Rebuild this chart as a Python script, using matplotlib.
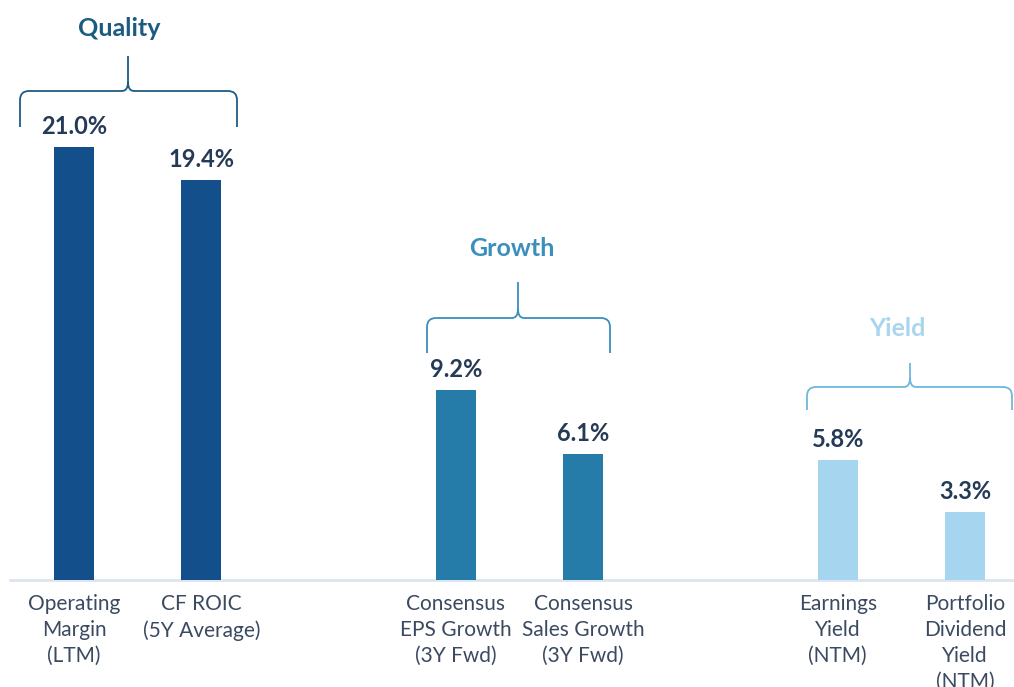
import numpy as np
import matplotlib
matplotlib.use("Agg")
from matplotlib import pyplot as plt
from matplotlib.path import Path
from matplotlib.patches import PathPatch

# bar data
labels = ["Operating\nMargin\n(LTM)", "CF ROIC\n(5Y Average)",
          "Consensus\nEPS Growth\n(3Y Fwd)", "Consensus\nSales Growth\n(3Y Fwd)",
          "Earnings\nYield\n(NTM)", "Portfolio\nDividend\nYield\n(NTM)"]
values = [21.0, 19.4, 9.2, 6.1, 5.8, 3.3]
positions = [0, 1, 3, 4, 6, 7]

# groups
group_names = ["Quality", "Growth", "Yield"]
group_bar_colors = ["#134f8b", "#267ca9", "#a6d6ef"]
group_title_colors = ["#1b5b80", "#3b8fbc", "#a9d5ee"]
group_brace_colors = ["#1f5d85", "#3b8fbc", "#6db7df"]
group_members = [[0, 1], [2, 3], [4, 5]]

plt.rcParams['font.family'] = ['Lato', 'DejaVu Sans']

fig = plt.figure(figsize=(10.14, 6.87), dpi=100)
ax = fig.add_axes([0, 0, 1, 1])

# pixel -> data helpers (x unit 127.3 px, y unit 20.62 px, baseline at 580)
def px_x(px):
    return (px - 74) / 127.3

def px_y(py):
    return (580 - py) / 20.62

ax.set_xlim(px_x(0), px_x(1014))
ax.set_ylim(px_y(687), px_y(0))
ax.axis('off')

for g, members in enumerate(group_members):
    for i in members:
        ax.bar(positions[i], values[i], width=0.314, color=group_bar_colors[g], zorder=2)
        ax.annotate(f"{values[i]:.1f}%", (positions[i], values[i]), xytext=(0, 15),
                    textcoords='offset points', ha='center', va='center',
                    fontsize=17, fontweight='bold', color='#253a57')
        ax.text(positions[i], px_y(594), labels[i], ha='center', va='top',
                fontsize=15, color='#3b4a60', linespacing=1.37)

# baseline
ax.plot([px_x(10), px_x(1014)], [0, 0], color='#dbe5f1', lw=2, zorder=1)

# braces: left px, right px, cusp px, bottom px, horizontal px, top px
braces = [(20, 237, 128, 127, 91, 56),
          (427, 610, 518, 353, 318, 282),
          (807, 1012, 910, 410, 387, 363)]
titles = [(119, 28), (512, 249), (897, 329)]


def brace_path(xl, xr, xc, yb, yh, yt, r=9):
    # built in pixel space then converted
    pts = [(xl, yb), (xl, yh + r), (xl, yh), (xl + r, yh),
           (xc - 6, yh), (xc, yh), (xc, yh - r),
           (xc, yt),
           (xc, yh - r), (xc, yh), (xc + 6, yh),
           (xr - r, yh), (xr, yh), (xr, yh + r), (xr, yb)]
    codes = [Path.MOVETO, Path.LINETO, Path.CURVE3, Path.CURVE3,
             Path.LINETO, Path.CURVE3, Path.CURVE3,
             Path.LINETO,
             Path.MOVETO, Path.CURVE3, Path.CURVE3,
             Path.LINETO, Path.CURVE3, Path.CURVE3, Path.LINETO]
    verts = [(px_x(a), px_y(b)) for a, b in pts]
    return Path(verts, codes)


for g in range(3):
    p = brace_path(*braces[g])
    ax.add_patch(PathPatch(p, fill=False, edgecolor=group_brace_colors[g], lw=1.3))
    tx, ty = titles[g]
    ax.text(px_x(tx), px_y(ty), group_names[g], ha='center', va='center',
            fontsize=18, fontweight='bold', color=group_title_colors[g])

fig.savefig("out.png", dpi=100)
